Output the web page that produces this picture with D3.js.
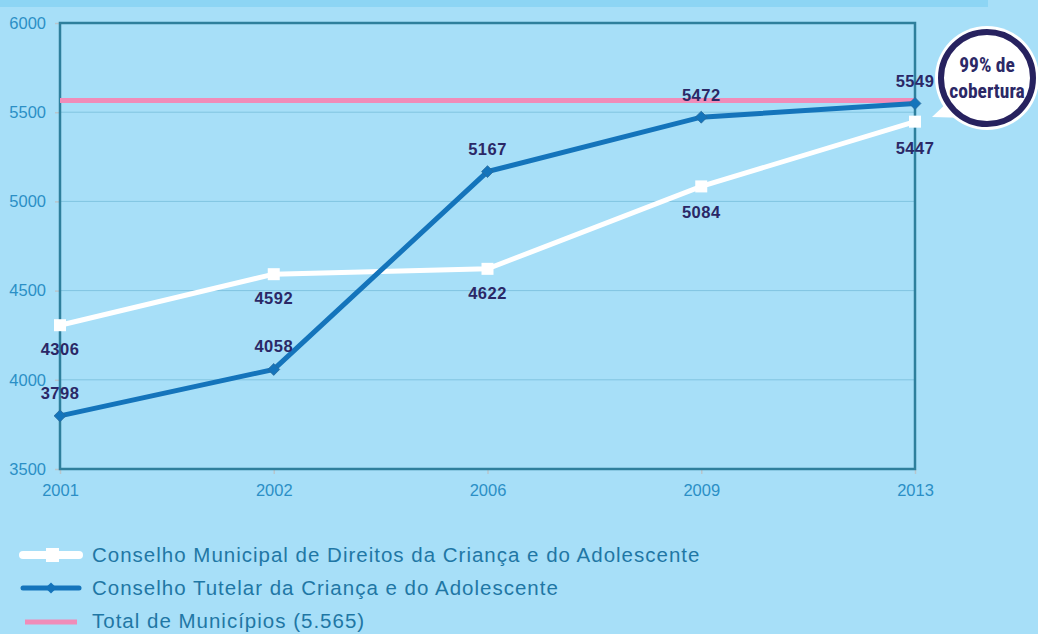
<!DOCTYPE html>
<html>
<head>
<meta charset="utf-8">
<script src="https://cdn.jsdelivr.net/npm/d3@7"></script>
<style>
    body { margin: 0; background: #a7dff8; }
    svg { display: block; }
    .tick text { font-family: "Liberation Sans", Arial, sans-serif; }
</style>
</head>
<body>
<div id="chart"></div>
<script>
var years = ["2001", "2002", "2006", "2009", "2013"];
var cmdca = [4306, 4592, 4622, 5084, 5447];
var tutelar = [3798, 4058, 5167, 5472, 5549];
var totalMunicipios = 5565;
var yTicks = [3500, 4000, 4500, 5000, 5500, 6000];
var legendLabels = [
    "Conselho Municipal de Direitos da Criança e do Adolescente",
    "Conselho Tutelar da Criança e do Adolescente",
    "Total de Municípios (5.565)"
];

var w = 1038;
var h = 634;
var plotLeft = 60, plotRight = 915, plotTop = 23, plotBottom = 469;

var bg = "#a7dff8";
var tickColor = "#2b8fc6";
var labelColor = "#2b2866";
var blue = "#1474bb";
var pink = "#f08cb9";
var labelFont = "'Liberation Sans', Arial, sans-serif";
var narrowFont = "'Liberation Sans Narrow', 'Roboto Condensed', 'Liberation Sans', sans-serif";

var svg = d3.select("#chart")
    .append("svg")
    .attr("width", w)
    .attr("height", h);

svg.append("rect").attr("width", w).attr("height", h).attr("fill", bg);

// top strip
svg.append("rect")
    .attr("x", 0).attr("y", 0)
    .attr("width", 988).attr("height", 7)
    .attr("fill", "#8dd5f4");

var xScale = d3.scalePoint().domain(years).range([plotLeft, plotRight]);
var yScale = d3.scaleLinear().domain([3500, 6000]).range([plotBottom, plotTop]);

// gridlines
svg.selectAll(".grid")
    .data(yTicks.slice(1, 5))
    .enter()
    .append("line")
    .attr("x1", plotLeft).attr("x2", plotRight)
    .attr("y1", function (d) { return yScale(d); })
    .attr("y2", function (d) { return yScale(d); })
    .attr("stroke", "#80c4e0")
    .attr("stroke-width", 1);

// axes
var yAxis = d3.axisLeft(yScale).tickValues(yTicks).tickSize(5).tickPadding(8).tickFormat(d3.format("d"));
var xAxis = d3.axisBottom(xScale).tickSize(5).tickPadding(8);

var gy = svg.append("g").attr("transform", "translate(" + plotLeft + ",0)").call(yAxis);
var gx = svg.append("g").attr("transform", "translate(0," + plotBottom + ")").call(xAxis);
[gx, gy].forEach(function (g) {
    g.select(".domain").remove();
    g.selectAll(".tick line").attr("stroke", "#b9c6cc").attr("stroke-width", 1.5);
    g.selectAll(".tick text").attr("fill", tickColor).style("font-size", "16.5px");
});
gy.selectAll(".tick text").attr("x", -14);
gx.selectAll(".tick text").attr("dy", "0.85em");

// plot frame
svg.append("rect")
    .attr("x", plotLeft).attr("y", plotTop)
    .attr("width", plotRight - plotLeft).attr("height", plotBottom - plotTop)
    .attr("fill", "none")
    .attr("stroke", "#2e7f9c")
    .attr("stroke-width", 2.5);

// total line
svg.append("line")
    .attr("x1", plotLeft).attr("x2", plotRight)
    .attr("y1", yScale(totalMunicipios)).attr("y2", yScale(totalMunicipios))
    .attr("stroke", pink).attr("stroke-width", 5);

var line = d3.line()
    .x(function (d, i) { return xScale(years[i]); })
    .y(function (d) { return yScale(d); });

// white series
svg.append("path")
    .datum(cmdca)
    .attr("d", line)
    .attr("fill", "none")
    .attr("stroke", "white")
    .attr("stroke-width", 5);

svg.selectAll(".sq")
    .data(cmdca)
    .enter()
    .append("rect")
    .attr("x", function (d, i) { return xScale(years[i]) - 6; })
    .attr("y", function (d) { return yScale(d) - 6; })
    .attr("width", 12).attr("height", 12)
    .attr("fill", "white");

// blue series
svg.append("path")
    .datum(tutelar)
    .attr("d", line)
    .attr("fill", "none")
    .attr("stroke", blue)
    .attr("stroke-width", 5);

svg.selectAll(".dm")
    .data(tutelar)
    .enter()
    .append("path")
    .attr("d", d3.symbol().type(d3.symbolDiamond2).size(90))
    .attr("transform", function (d, i) {
        return "translate(" + xScale(years[i]) + "," + yScale(d) + ")";
    })
    .attr("fill", blue)
    .attr("stroke", "#2a6a9a")
    .attr("stroke-width", 0.8);

// data labels
var whiteOffsets = [30, 30, 30, 32, 32];
var blueOffsets = [-17, -17, -17, -16, -16];

function dataLabels(cls, values, offsets) {
    svg.selectAll("." + cls)
        .data(values)
        .enter()
        .append("text")
        .attr("class", cls)
        .attr("x", function (d, i) { return xScale(years[i]); })
        .attr("y", function (d, i) { return yScale(d) + offsets[i]; })
        .attr("text-anchor", "middle")
        .attr("fill", labelColor)
        .style("font-family", labelFont)
        .style("font-weight", "bold")
        .style("font-size", "16.5px")
        .style("letter-spacing", "0.5px")
        .text(function (d) { return d; });
}
dataLabels("wl", cmdca, whiteOffsets);
dataLabels("bl", tutelar, blueOffsets);

// callout bubble
var cx = 987, cy = 78;
svg.append("path")
    .attr("d", "M932,117 L950,100 L968,118 Z")
    .attr("fill", "white");
svg.append("circle")
    .attr("cx", cx).attr("cy", cy).attr("r", 52)
    .attr("fill", "white");
svg.append("circle")
    .attr("cx", cx).attr("cy", cy).attr("r", 46)
    .attr("fill", "white")
    .attr("stroke", "#27225f")
    .attr("stroke-width", 6);
svg.append("text")
    .attr("x", cx).attr("y", 72)
    .attr("text-anchor", "middle")
    .attr("fill", labelColor)
    .style("font-family", narrowFont)
    .style("font-weight", "bold")
    .style("font-size", "19.5px")
    .text("99% de");
svg.append("text")
    .attr("x", cx).attr("y", 98)
    .attr("text-anchor", "middle")
    .attr("fill", labelColor)
    .style("font-family", narrowFont)
    .style("font-weight", "bold")
    .style("font-size", "19.5px")
    .text("cobertura");

// legend
var legend = svg.append("g").attr("transform", "translate(22,555)");
var item = legend.selectAll(".lg")
    .data(legendLabels)
    .enter()
    .append("g")
    .attr("transform", function (d, i) { return "translate(0," + (i * 33) + ")"; });

item.append("line")
    .attr("x1", function (d, i) { return i == 2 ? 3 : 1; })
    .attr("x2", function (d, i) { return i == 2 ? 55 : 57; })
    .attr("y1", function (d, i) { return i == 2 ? 1 : 0; })
    .attr("y2", function (d, i) { return i == 2 ? 1 : 0; })
    .attr("stroke", function (d, i) { return ["white", blue, pink][i]; })
    .attr("stroke-width", function (d, i) { return [8, 5, 5][i]; })
    .attr("stroke-linecap", function (d, i) { return i == 2 ? "butt" : "round"; });

item.filter(function (d, i) { return i == 0; })
    .append("rect")
    .attr("x", 24).attr("y", -7).attr("width", 13).attr("height", 14)
    .attr("fill", "white");
item.filter(function (d, i) { return i == 1; })
    .append("path")
    .attr("d", d3.symbol().type(d3.symbolDiamond2).size(80))
    .attr("transform", "translate(29,0)")
    .attr("fill", blue);

item.append("text")
    .attr("x", 70)
    .attr("y", 0)
    .attr("dy", "0.35em")
    .attr("fill", "#1f77a5")
    .style("font-family", "'Liberation Sans', Arial, sans-serif")
    .style("font-size", "20.5px")
    .style("letter-spacing", "1px")
    .text(function (d) { return d; });
</script>
</body>
</html>
